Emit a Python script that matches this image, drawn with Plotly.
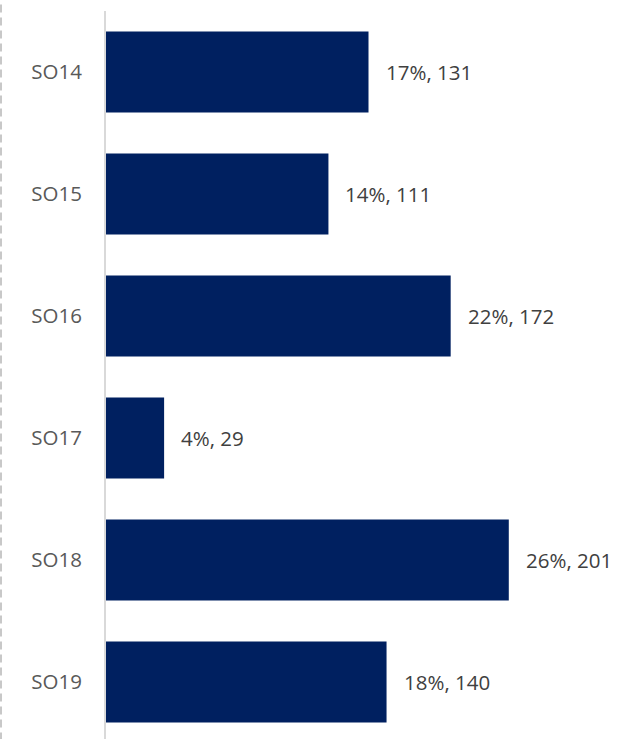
import plotly.graph_objects as go

categories = ["SO14", "SO15", "SO16", "SO17", "SO18", "SO19"]
counts = [131, 111, 172, 29, 201, 140]
percents = ["17%", "14%", "22%", "4%", "26%", "18%"]
labels = [f"{p}, {c}" for p, c in zip(percents, counts)]

fig = go.Figure()
fig.add_trace(go.Bar(
    y=categories, x=counts, orientation="h",
    marker=dict(color="#002060", line=dict(width=0)),
    hoverinfo="skip",
))

for cat, val, lab in zip(categories, counts, labels):
    fig.add_annotation(x=val, y=cat, text=lab, xanchor="left", yanchor="middle",
                       xshift=15, showarrow=False,
                       font=dict(family="Open Sans", size=20.5, color="#404040"))

fig.add_shape(type="line", xref="paper", yref="paper",
              x0=-105 / 510, x1=-105 / 510, y0=-0.02, y1=1.02,
              line=dict(color="#c8c8c8", width=2, dash="8px,5px"))

fig.update_layout(
    width=618, height=739,
    margin=dict(l=106, r=2, t=11, b=0),
    paper_bgcolor="white", plot_bgcolor="white",
    bargap=0.335,
    showlegend=False,
    xaxis=dict(range=[0, 254.5], visible=False, fixedrange=True),
    yaxis=dict(
        categoryorder="array", categoryarray=categories,
        range=[5.467, -0.5],
        showline=True, linecolor="#d9d9d9", linewidth=2,
        ticks="", ticklabelstandoff=18,
        tickfont=dict(family="Open Sans", size=20.5, color="#595959"),
        showgrid=False, zeroline=False, fixedrange=True,
    ),
)

fig.write_html("out.html", config={"displayModeBar": False},
               post_script="document.body.style.margin='0';")
